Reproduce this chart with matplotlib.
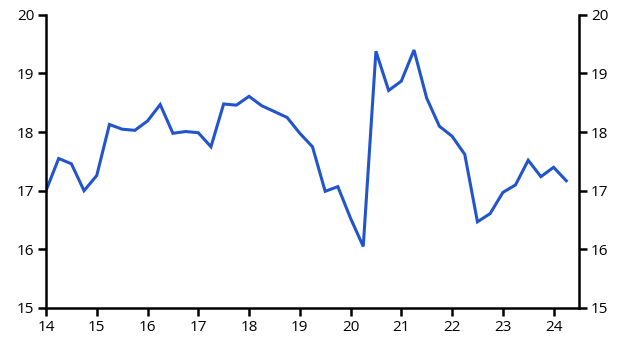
import matplotlib
matplotlib.use("Agg")
import matplotlib.pyplot as plt
import numpy as np

x_start = 14.0
values = [17.0, 17.55, 17.46, 17.0, 17.26, 18.13, 18.05, 18.03, 18.19, 18.47,
          17.98, 18.01, 17.99, 17.75, 18.48, 18.46, 18.61, 18.45, 18.35, 18.25,
          17.98, 17.75, 16.99, 17.07, 16.53, 16.05, 19.38, 18.71, 18.87, 19.40,
          18.58, 18.10, 17.93, 17.62, 16.47, 16.61, 16.97, 17.10, 17.52, 17.24,
          17.40, 17.17]
x_ticks = [14, 15, 16, 17, 18, 19, 20, 21, 22, 23, 24]
y_ticks = [15, 16, 17, 18, 19, 20]

x = x_start + 0.25 * np.arange(len(values))

plt.rcParams['font.family'] = ['Open Sans', 'DejaVu Sans']
fig = plt.figure(figsize=(6.3, 3.54), dpi=100)
ax = fig.add_axes([0.073, 0.130, 0.846, 0.828])
ax.plot(x, values, color='#2255cc', lw=2.2, solid_joinstyle='miter')
ax.set_xlim(14, 24.5)
ax.set_ylim(15, 20)
ax.set_xticks(x_ticks)
ax.set_xticklabels([str(t) for t in x_ticks])
ax.set_yticks(y_ticks)
for s in ['top']:
    ax.spines[s].set_visible(False)
for s in ['left', 'right', 'bottom']:
    ax.spines[s].set_linewidth(1.8)
ax.tick_params(axis='both', direction='out', length=5.5, width=1.8, labelsize=11, pad=3)
ax.tick_params(axis='y', left=True, right=True, labelleft=True, labelright=True)
fig.savefig('out.png', dpi=100)
